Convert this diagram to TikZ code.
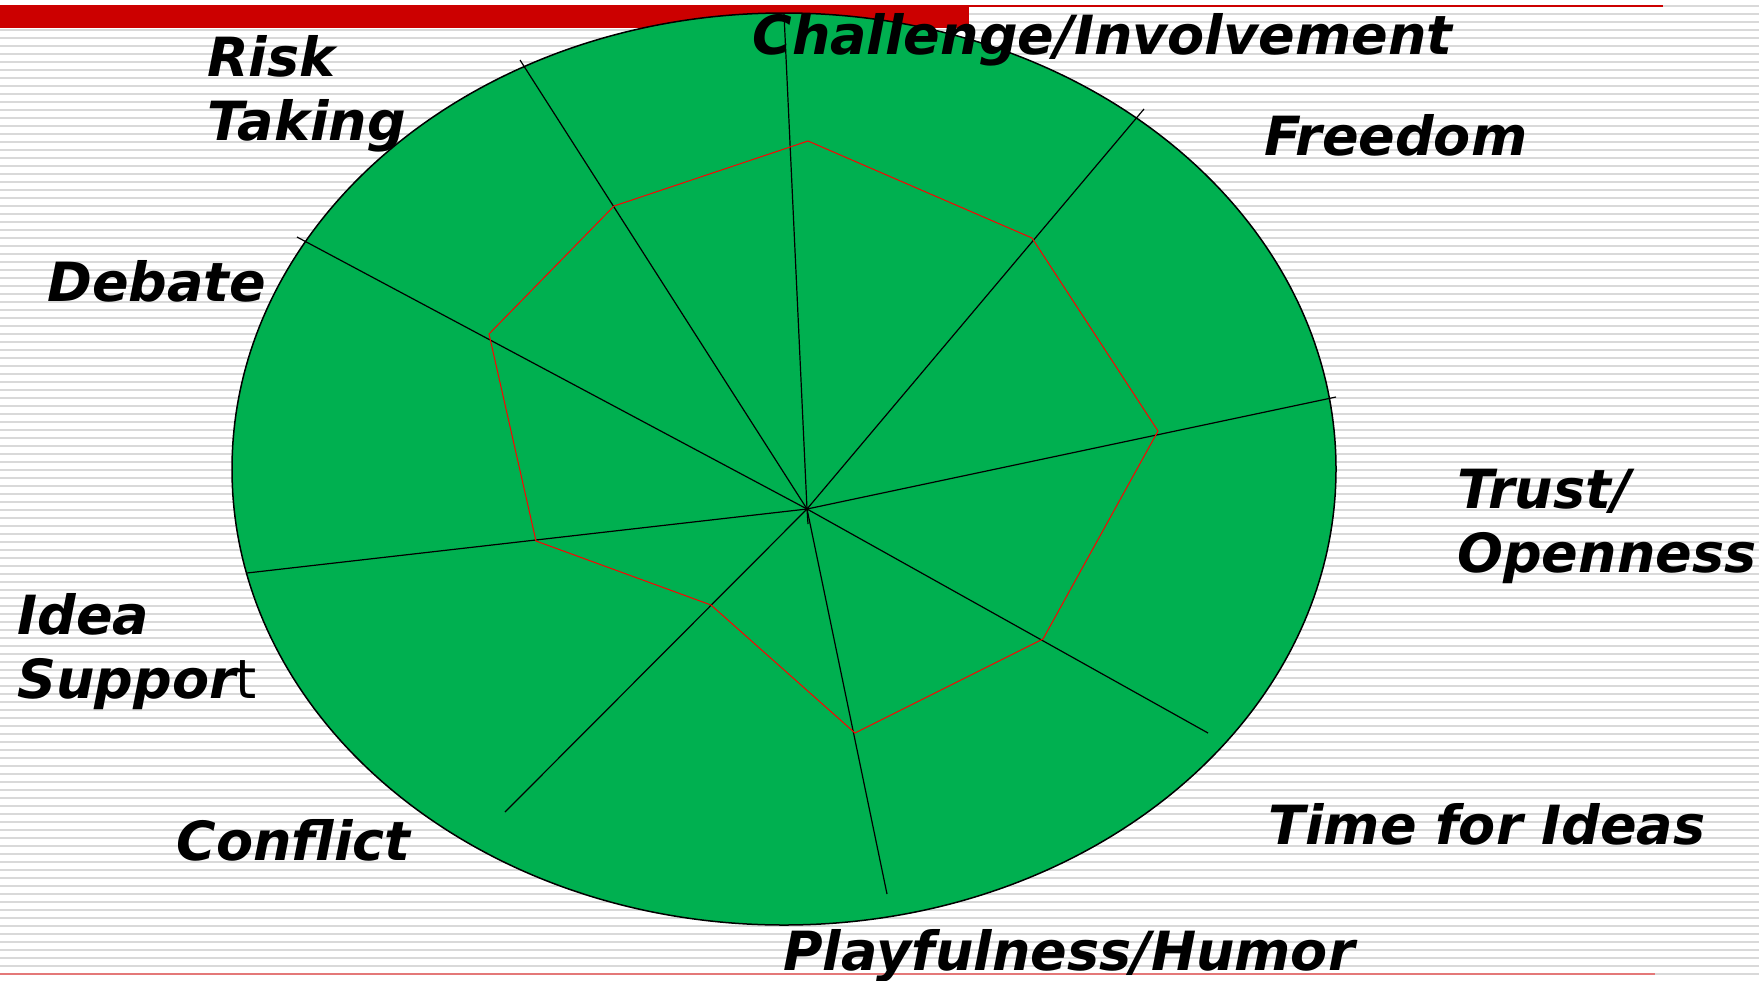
\documentclass[tikz,border=0pt]{standalone}
\usepackage{fontspec}
\setmainfont{DejaVu Sans}
\usepackage{tikz}

\definecolor{climgreen}{RGB}{0,176,80}
\definecolor{barred}{RGB}{204,0,0}
\definecolor{lowred}{RGB}{228,120,120}
\definecolor{stripe}{RGB}{217,217,217}

\tikzset{
  stripe line/.style={draw=stripe, line width=0.75pt},
  spoke/.style={draw=black, line width=0.6pt},
  profile/.style={draw=red, line width=0.5pt},
  dim/.style={font=\fontsize{27}{32}\selectfont\bfseries\itshape, inner sep=0pt, align=left}
}

\begin{document}
\begin{tikzpicture}[x=0.5pt, y=-0.5pt]

\useasboundingbox (0,0) rectangle (1759,980);
\fill[white] (0,0) rectangle (1759,980);

\foreach \y in {14,22,...,966}
  \draw[stripe line] (0,\y) -- (1759,\y);
\draw[stripe line] (1663,6) -- (1759,6);
\draw[stripe line] (1655,974) -- (1759,974);

\fill[barred] (0,5) rectangle (969,28);
\draw[barred, line width=1pt] (969,6) -- (1663,6);
\draw[lowred, line width=1pt] (0,974) -- (1655,974);

\fill[climgreen, draw=black, line width=0.75pt] (784,469) ellipse [x radius=276pt, y radius=228pt];

\coordinate (c) at (807,509);
\coordinate (chal) at (784,14);
\coordinate (free) at (1144,109);
\coordinate (trust) at (1336,397);
\coordinate (time) at (1208,733);
\coordinate (play) at (887,894);
\coordinate (conf) at (505,812);
\coordinate (idea) at (247,573);
\coordinate (deb) at (297,237);
\coordinate (risk) at (520,60);
\coordinate (stub) at (808,524);

\draw[spoke] (chal) -- (c) -- (stub);
\draw[spoke] (c) -- (free);
\draw[spoke] (c) -- (trust);
\draw[spoke] (c) -- (time);
\draw[spoke] (c) -- (play);
\draw[spoke] (c) -- (conf);
\draw[spoke] (c) -- (idea);
\draw[spoke] (c) -- (deb);
\draw[spoke] (c) -- (risk);

\coordinate (p1) at (808,141);
\coordinate (p2) at (1032,238);
\coordinate (p3) at (1158,431);
\coordinate (p4) at (1043,639);
\coordinate (p5) at (855,733);
\coordinate (p6) at (711,605);
\coordinate (p7) at (536,541);
\coordinate (p8) at (489,334);
\coordinate (p9) at (614,206);
\draw[profile] (p1) -- (p2) -- (p3) -- (p4) -- (p5) -- (p6) -- (p7) -- (p8) -- (p9) -- cycle;

\node[dim, anchor=base west] (lrisk) at (207,140) {Risk\\Taking};
\node[dim, anchor=base west] (lchal) at (752,54) {Challenge/Involvement};
\node[dim, anchor=base west] (lfree) at (1264,155) {Freedom};
\node[dim, anchor=base west] (ldeb) at (47,301) {Debate};
\node[dim, anchor=base west] (ltrust) at (1457,572) {Trust/\\Openness};
\node[dim, anchor=base west] (lidea) at (17,698) {Idea\\Suppor{\mdseries\upshape t}};
\node[dim, anchor=base west] (lconf) at (176,860) {Conflict};
\node[dim, anchor=base west] (ltime) at (1268,844) {Time for Ideas};
\node[dim, anchor=base west] (lplay) at (783,970) {Playfulness/Humor};

\end{tikzpicture}
\end{document}
